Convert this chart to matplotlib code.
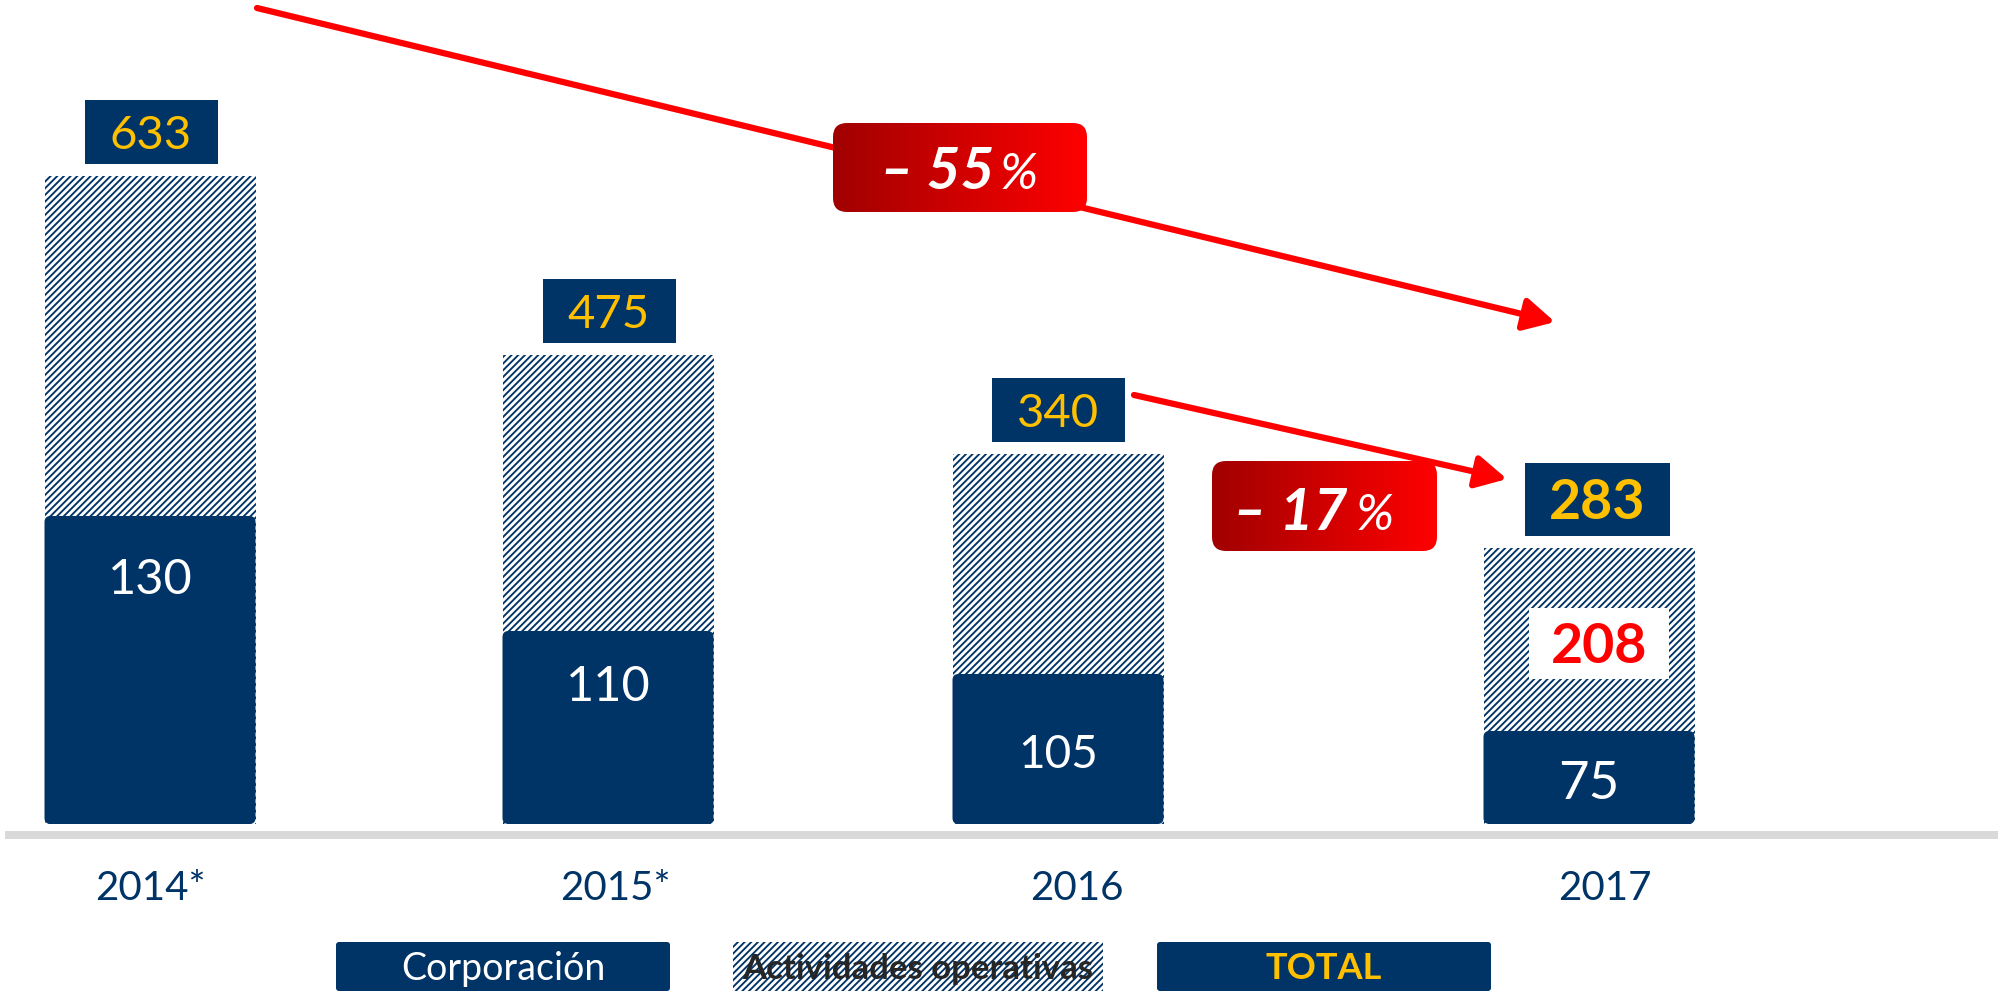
import matplotlib
matplotlib.use("Agg")
import matplotlib.pyplot as plt
from matplotlib.patches import Rectangle, FancyBboxPatch, FancyArrowPatch
from matplotlib.colors import LinearSegmentedColormap
import numpy as np

# ---------------- data ----------------
years = ["2014*", "2015*", "2016", "2017"]
corporacion = [130, 110, 105, 75]
actividades = [503, 365, 235, 208]
totales = [633, 475, 340, 283]
variaciones = ["55", "17"]          # % decline labels
legend_labels = ["Corporación", "Actividades operativas", "TOTAL"]
# bar heights as drawn in the source slide (not proportional to the values)
corp_drawn = [308, 193, 150, 93]
stack_drawn = [648, 469, 370, 276]

# ---------------- style / layout ----------------
NAVY = "#003366"
GOLD = "#FFC000"
RED = "#FF0000"
plt.rcParams["font.family"] = ["Lato", "DejaVu Sans"]
plt.rcParams["hatch.color"] = NAVY
plt.rcParams["hatch.linewidth"] = 1.35

bar_x = [150, 608, 1058, 1589]
bar_w = 211
HATCH = "/////"

fig = plt.figure(figsize=(19.98, 9.94), dpi=100)
ax = fig.add_axes([0, 0, 1, 1])
XL, YL = (0, 1998), (-170, 824)
ax.set_xlim(*XL)
ax.set_ylim(*YL)
ax.axis("off")


def put(x, yc, s, fs, **kw):
    """place text with its digit/cap height centred on yc"""
    ax.text(x, yc - 0.4976 * fs, s, fontsize=fs, va="baseline", **kw)


# baseline
ax.add_patch(Rectangle((5, -15), 1993, 8, color="#D9D9D9", lw=0, zorder=1))

# hatched (actividades) part: full stack
ax.bar(bar_x, stack_drawn, width=bar_w, color="white", edgecolor=NAVY,
       hatch=HATCH, linewidth=0, zorder=2)
# corporación part
corp_bars = ax.bar(bar_x, corp_drawn, width=bar_w, color=NAVY, linewidth=0, zorder=3)
for b in corp_bars:
    x, y, w, h = b.get_x(), b.get_y(), b.get_width(), b.get_height()
    r = 6
    ax.add_patch(FancyBboxPatch((x + r, y + r), w - 2 * r, h - 2 * r,
                                boxstyle=f"round,pad={r}", fc=NAVY, lw=0, zorder=3))
    b.set_visible(False)

# corporación labels
corp_label_y = [247, 140, 72, 44]
corp_fs = [35, 35, 33, 38]
for i, v in enumerate(corporacion):
    put(bar_x[i], corp_label_y[i], str(v), corp_fs[i], color="white", ha="center", zorder=6)

# total label boxes
box_w = [133, 133, 133, 145]
box_h = [64, 64, 64, 73]
box_dx = [1, 1, 0, 8]
for i, v in enumerate(totales):
    cx = bar_x[i] + box_dx[i]
    by = stack_drawn[i] + 12
    ax.add_patch(Rectangle((cx - box_w[i] / 2, by), box_w[i], box_h[i],
                           fc=NAVY, lw=0, zorder=4))
    last = i == len(totales) - 1
    put(cx, by + box_h[i] / 2, str(v), 40 if last else 34, color=GOLD,
        ha="center", fontweight="bold" if last else "normal", zorder=6)

# actividades label for last year (white box inside hatched area)
i = len(actividades) - 1
cx = bar_x[i] + 10
cy = (corp_drawn[i] + stack_drawn[i]) / 2 - 4
ax.add_patch(Rectangle((cx - 70, cy - 35.5), 140, 71, fc="white", lw=0, zorder=4))
put(cx, cy, str(actividades[i]), 40, color=RED, ha="center", fontweight="bold", zorder=6)

# year labels
year_x = [150, 615, 1077, 1605]
for i, yl in enumerate(years):
    put(year_x[i], -62, yl, 29, color=NAVY, ha="center")

# arrows
for (p0, p1) in [((257, 816), (1555, 502)), ((1134, 429), (1507, 345))]:
    ax.add_patch(FancyArrowPatch(p0, p1, arrowstyle="-|>,head_length=0.85,head_width=0.45",
                                 mutation_scale=22, lw=4.5, color=RED,
                                 shrinkA=0, shrinkB=0, zorder=4))

# gradient badges
cmap = LinearSegmentedColormap.from_list("redgrad", ["#A00000", "#D00000", "#FF0000"])
grad = np.linspace(0, 1, 256).reshape(1, -1)
badges = [((833, 1087, 612, 701), 994, 1000, 656),
          ((1212, 1437, 273, 363), 1347, 1356, 315)]
for k, ((x0, x1, y0, y1), xr, xp, yc) in enumerate(badges):
    r = 14
    patch = FancyBboxPatch((x0 + r, y0 + r), x1 - x0 - 2 * r, y1 - y0 - 2 * r,
                           boxstyle=f"round,pad={r}", fc="none", ec="none", zorder=5)
    ax.add_patch(patch)
    im = ax.imshow(grad, cmap=cmap, extent=[x0, x1, y0, y1], aspect="auto",
                   zorder=5, interpolation="bicubic")
    im.set_clip_path(patch)
    put(xr, yc, "\u2013 " + variaciones[k], 42, color="white", ha="right",
        fontweight="bold", fontstyle="italic", zorder=6)
    put(xp, yc - 3, "%", 37, color="white", ha="left", fontstyle="italic", zorder=6)

# legend
ly0, ly1 = -167, -118
lyc = (ly0 + ly1) / 2
ax.add_patch(FancyBboxPatch((336 + 3, ly0 + 3), 334 - 6, 49 - 6, boxstyle="round,pad=3",
                            fc=NAVY, lw=0, zorder=3))
put(503, lyc, legend_labels[0], 27, color="white", ha="center", zorder=6)
ax.add_patch(Rectangle((733, ly0), 370, 49, fc="white", ec=NAVY, hatch=HATCH, lw=0, zorder=3))
put(918, lyc, legend_labels[1], 25, color="#262626", ha="center", fontweight="bold", zorder=6)
ax.add_patch(FancyBboxPatch((1157 + 3, ly0 + 3), 334 - 6, 49 - 6, boxstyle="round,pad=3",
                            fc=NAVY, lw=0, zorder=3))
put(1324, lyc, legend_labels[2], 26, color=GOLD, ha="center", fontweight="bold", zorder=6)

ax.set_xlim(*XL)
ax.set_ylim(*YL)
fig.savefig("out.png", dpi=100)
